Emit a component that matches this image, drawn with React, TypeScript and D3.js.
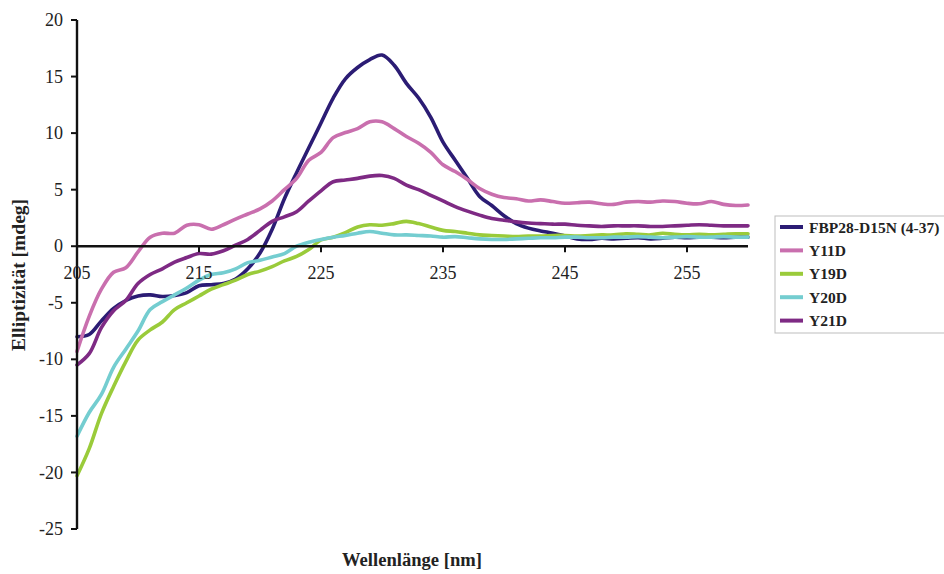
import React from "react";
import * as d3 from "d3";

// Wavelength grid (nm), 1 nm steps
const wavelengths: number[] = d3.range(205, 261, 1);

const fbp28: number[] = [
  -8.0, -7.8, -6.6, -5.5, -4.8, -4.4, -4.3, -4.45, -4.35, -4.1,
  -3.5, -3.4, -3.3, -2.9, -2.0, -0.6, 1.5, 4.2, 6.5, 8.7,
  10.9, 13.1, 14.8, 15.8, 16.5, 16.9, 16.0, 14.4, 13.1, 11.4,
  9.2, 7.6, 6.0, 4.4, 3.6, 2.7, 2.0, 1.6, 1.35, 1.15,
  0.9, 0.65, 0.6, 0.7, 0.65, 0.7, 0.75, 0.65, 0.7, 0.8,
  0.75, 0.8, 0.8, 0.75, 0.8, 0.8,
];

const y11d: number[] = [
  -9.3, -6.2, -3.8, -2.3, -1.9, -0.5, 0.8, 1.15, 1.15, 1.85,
  1.9, 1.5, 1.9, 2.4, 2.85, 3.3, 4.0, 5.0, 6.0, 7.6,
  8.3, 9.6, 10.05, 10.4, 11.0, 11.0, 10.4, 9.7, 9.1, 8.3,
  7.2, 6.6, 5.9, 5.1, 4.6, 4.3, 4.2, 4.0, 4.1, 3.95,
  3.8, 3.85, 3.9, 3.75, 3.7, 3.9, 3.95, 3.9, 4.0, 3.95,
  3.8, 3.75, 3.95, 3.7, 3.6, 3.65,
];

const y19d: number[] = [
  -20.3, -17.9, -14.8, -12.4, -10.2, -8.3, -7.4, -6.7, -5.6, -5.0,
  -4.4, -3.8, -3.4, -3.0, -2.5, -2.2, -1.8, -1.3, -0.9, -0.3,
  0.55, 0.8, 1.2, 1.7, 1.9, 1.85, 2.0, 2.2, 2.0, 1.7,
  1.4, 1.3, 1.15, 1.0, 0.95, 0.9, 0.85, 0.9, 0.9, 0.95,
  0.95, 0.9, 0.95, 1.0, 1.0, 1.1, 1.05, 1.0, 1.15, 1.05,
  1.0, 1.05, 1.0, 1.05, 1.1, 1.1,
];

const y20d: number[] = [
  -16.8, -14.7, -13.1, -10.7, -9.1, -7.5, -5.6, -4.9, -4.3, -3.7,
  -3.0, -2.5, -2.35, -2.0, -1.45, -1.25, -0.95, -0.65, 0.0, 0.35,
  0.6, 0.8, 0.95, 1.15, 1.3, 1.15, 1.0, 1.0, 0.95, 0.9,
  0.8, 0.85, 0.75, 0.65, 0.6, 0.6, 0.65, 0.7, 0.75, 0.75,
  0.8, 0.8, 0.75, 0.75, 0.8, 0.8, 0.85, 0.8, 0.75, 0.8,
  0.85, 0.8, 0.8, 0.85, 0.8, 0.8,
];

const y21d: number[] = [
  -10.5, -9.5, -7.2, -5.7, -4.8, -3.3, -2.5, -2.0, -1.4, -1.0,
  -0.65, -0.7, -0.4, 0.1, 0.6, 1.4, 2.2, 2.6, 3.05, 4.0,
  4.9, 5.7, 5.85, 6.0, 6.2, 6.25, 6.0, 5.4, 5.0, 4.5,
  4.0, 3.5, 3.1, 2.75, 2.45, 2.3, 2.15, 2.05, 2.0, 1.95,
  1.95, 1.85, 1.8, 1.75, 1.8, 1.8, 1.8, 1.75, 1.75, 1.8,
  1.85, 1.9, 1.85, 1.8, 1.8, 1.8,
];

const seriesNames: string[] = ["FBP28-D15N (4-37)", "Y11D", "Y19D", "Y20D", "Y21D"];
const seriesValues: number[][] = [fbp28, y11d, y19d, y20d, y21d];
const seriesColors: string[] = ["#2b1c74", "#c96fae", "#9acb3a", "#74cdd0", "#7e2a84"];

const xTicks: number[] = [205, 215, 225, 235, 245, 255];
const yTicks: number[] = [20, 15, 10, 5, 0, -5, -10, -15, -20, -25];

const FONT = "Liberation Serif, Times New Roman, Times, serif";

export default function App() {
  const width = 944;
  const height = 574;

  const x = d3.scaleLinear().domain([205, 260]).range([77, 748]);
  const y = d3.scaleLinear().domain([-25, 20]).range([529, 20]);

  const line = d3
    .line<number>()
    .x((_, i) => x(wavelengths[i]))
    .y((d) => y(d))
    .curve(d3.curveCatmullRom.alpha(0.5));

  const legendX = 775;
  const legendY = 216;
  const rowH = 23.4;

  return (
    <svg
      width={width}
      height={height}
      style={{ position: "absolute", left: 0, top: 0, background: "#fff", fontFamily: FONT }}
    >
      <rect x={0} y={0} width={width} height={height} fill="#fff" />

      {/* data lines */}
      <g fill="none" strokeWidth={3.6} strokeLinejoin="round" strokeLinecap="round">
        {seriesValues.map((vals, i) => (
          <path key={seriesNames[i]} d={line(vals) || ""} stroke={seriesColors[i]} />
        ))}
      </g>

      {/* y axis */}
      <g>
        <line x1={x(205)} x2={x(205)} y1={y(20)} y2={y(-25)} stroke="#111" strokeWidth={2.4} />
        {yTicks.map((t) => (
          <g key={t}>
            <line x1={x(205) - 6} x2={x(205)} y1={y(t)} y2={y(t)} stroke="#111" strokeWidth={2} />
            <text x={63} y={y(t)} dy="0.34em" textAnchor="end" fontSize={18} fill="#222">
              {t}
            </text>
          </g>
        ))}
      </g>

      {/* x axis along zero */}
      <g>
        <line x1={x(205)} x2={x(260)} y1={y(0)} y2={y(0)} stroke="#111" strokeWidth={2.4} />
        {xTicks.map((t) => (
          <g key={t}>
            <line x1={x(t)} x2={x(t)} y1={y(0)} y2={y(0) + 6} stroke="#111" strokeWidth={2} />
            <text x={x(t)} y={279} textAnchor="middle" fontSize={18} fill="#222">
              {t}
            </text>
          </g>
        ))}
      </g>

      {/* axis titles */}
      <text
        transform={`translate(25, 275) rotate(-90)`}
        textAnchor="middle"
        fontSize={19.5}
        fontWeight="bold"
        fill="#222"
      >
        Elliptizität [mdeg]
      </text>
      <text x={412} y={566} textAnchor="middle" fontSize={18.6} fontWeight="bold" fill="#222">
        Wellenlänge [nm]
      </text>

      {/* legend */}
      <g>
        <rect
          x={legendX}
          y={legendY}
          width={200}
          height={117}
          fill="#fff"
          stroke="#bdbdbd"
          strokeWidth={1}
        />
        {seriesNames.map((name, i) => {
          const cy = legendY + 11 + i * rowH;
          return (
            <g key={name}>
              <line x1={780} x2={803} y1={cy} y2={cy} stroke={seriesColors[i]} strokeWidth={4} />
              <text x={809} y={cy} dy="0.36em" fontSize={15.5} fontWeight="bold" fill="#222">
                {name}
              </text>
            </g>
          );
        })}
      </g>
    </svg>
  );
}
